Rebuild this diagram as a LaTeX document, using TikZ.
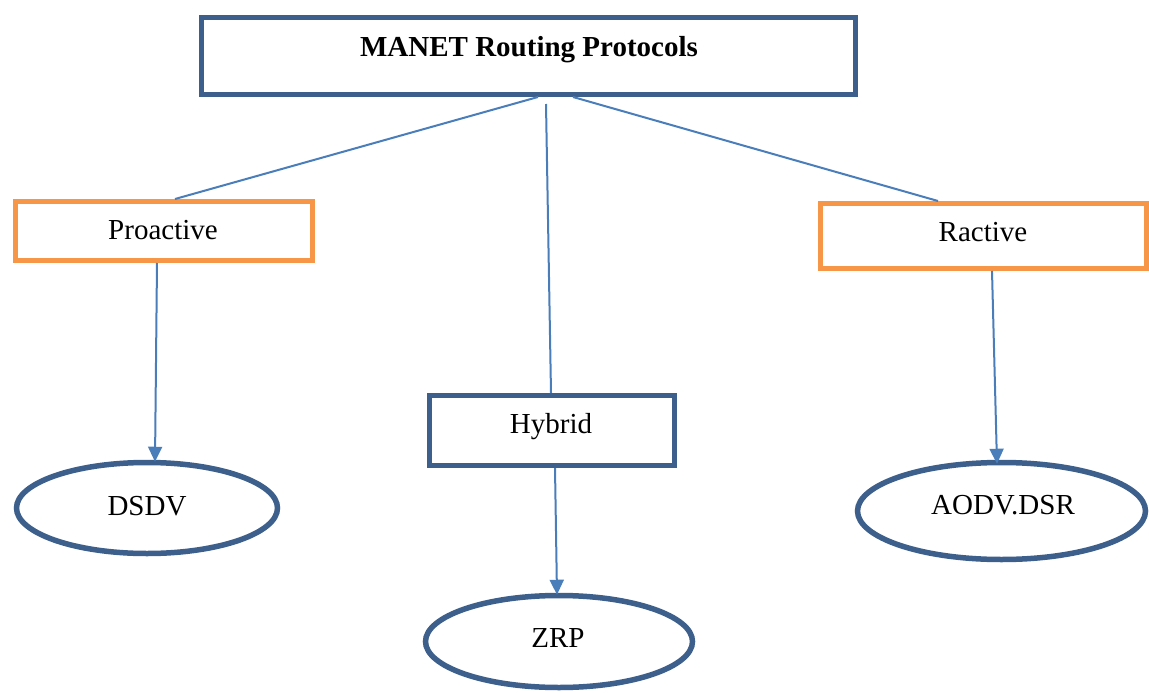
\documentclass[tikz,border=0pt]{standalone}
\usepackage{fontspec}
\setmainfont{Liberation Serif}
\usetikzlibrary{shapes.geometric,arrows.meta}
\definecolor{boxblue}{HTML}{3D5F8C}
\definecolor{boxorange}{HTML}{F79646}
\definecolor{linkblue}{HTML}{4A7EBB}
\tikzset{
  blockbox/.style={draw=boxblue, line width=5pt, fill=white, rectangle, inner sep=0pt},
  typebox/.style={draw=boxorange, line width=5pt, fill=white, rectangle, inner sep=0pt},
  protoellipse/.style={draw=boxblue, line width=5.5pt, fill=white, ellipse, inner sep=0pt},
  label text/.style={anchor=base, inner sep=0pt, font=\fontsize{29}{34}\selectfont},
  link/.style={draw=linkblue, line width=2pt},
  arrowlink/.style={link, -{Triangle[width=14pt,length=15pt]}}
}
\begin{document}
\begin{tikzpicture}[x=1pt, y=-1pt]
  \useasboundingbox (0,0) rectangle (1149,693);

  % boxes and ellipses
  \node[blockbox, minimum width=654pt, minimum height=77pt] (top) at (528.5,56) {};
  \node[typebox, minimum width=297pt, minimum height=59pt] (pro) at (164,231) {};
  \node[typebox, minimum width=326pt, minimum height=65pt] (rac) at (983.5,236) {};
  \node[blockbox, minimum width=245pt, minimum height=70pt] (hyb) at (552,430.5) {};
  \node[protoellipse, minimum width=261pt, minimum height=91pt] (dsdv) at (147,508) {};
  \node[protoellipse, minimum width=267pt, minimum height=92pt] (zrp) at (559,641.5) {};
  \node[protoellipse, minimum width=288pt, minimum height=97pt] (aodv) at (1001.5,511) {};

  % texts
  \node[label text, font=\fontsize{29}{34}\selectfont\bfseries] (ttop) at (529,56.5) {MANET Routing Protocols};
  \node[label text] (tpro) at (163,239.5) {Proactive};
  \node[label text] (trac) at (983,241.5) {Ractive};
  \node[label text] (thyb) at (551,433.5) {Hybrid};
  \node[label text] (tdsdv) at (147,515.5) {DSDV};
  \node[label text] (tzrp) at (558,647.5) {ZRP};
  \node[label text] (taodv) at (1003,514.5) {AODV.DSR};

  % connectors from the root box
  \draw[link] ([xshift=9.5pt]top.south) -- ([xshift=11pt]pro.north);
  \draw[link] ([xshift=17.5pt,yshift=-7pt]top.south) -- ([xshift=-1pt]hyb.north);
  \draw[link] ([xshift=44.5pt]top.south) -- ([xshift=-45.5pt]rac.north);

  % arrows to the protocols
  \draw[arrowlink] ([xshift=-7pt]pro.south) -- ([xshift=8pt,yshift=-2pt]dsdv.north);
  \draw[arrowlink] ([xshift=3pt]hyb.south) -- ([xshift=-2pt,yshift=-2pt]zrp.north);
  \draw[arrowlink] ([xshift=8.5pt]rac.south) -- ([xshift=-4.5pt,yshift=-4pt]aodv.north);
\end{tikzpicture}
\end{document}
